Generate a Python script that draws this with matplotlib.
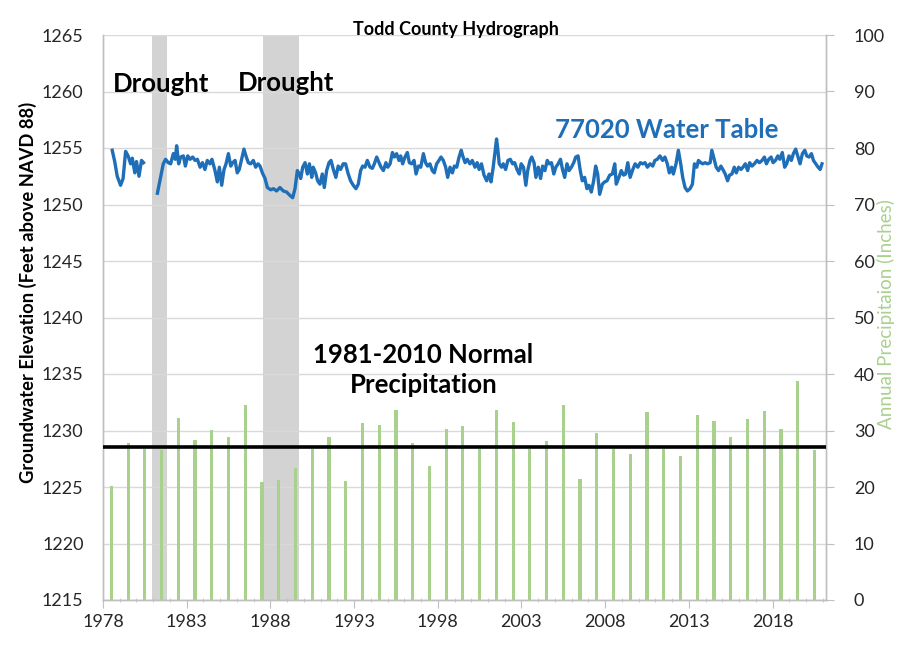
import numpy as np
import matplotlib
matplotlib.use("Agg")
import matplotlib.pyplot as plt
from matplotlib.ticker import MultipleLocator

plt.rcParams['font.family'] = ['Lato', 'DejaVu Sans']

# Annual precipitation (inches), plotted at mid-year
precip_years = np.arange(1978, 2021)
precip_in = [20.2, 27.7, 26.8, 26.5, 32.3, 28.4, 30.1, 28.8, 34.5, 20.9,
             21.2, 23.3, 26.8, 28.8, 21.1, 31.4, 31.0, 33.7, 27.8, 23.7,
             30.2, 30.8, 26.7, 33.7, 31.5, 26.8, 28.1, 34.5, 21.5, 29.6,
             26.8, 25.8, 33.2, 26.8, 25.4, 32.7, 31.7, 28.8, 32.0, 33.5,
             30.2, 38.8, 26.5]

normal_precip = 27.1  # 1981-2010 normal, inches

# Drought periods (decimal years)
drought_start = [1980.95, 1987.57]
drought_end = [1981.85, 1989.70]

# Well 77020 water table elevation (ft above NAVD 88); NaN marks the data gap
wt_year = [
    1978.55, 1978.70, 1978.85, 1979.05, 1979.20, 1979.35, 1979.50, 1979.65,
    1979.75, 1979.90, 1980.00, 1980.15, 1980.30, 1980.42, 1980.80,
    1981.25, 1981.40, 1981.60, 1981.74, 1981.90, 1982.04, 1982.20, 1982.32,
    1982.40, 1982.52, 1982.64, 1982.80, 1982.92, 1983.06, 1983.20, 1983.36,
    1983.50, 1983.64, 1983.80, 1983.94, 1984.09, 1984.23, 1984.39, 1984.51,
    1984.69, 1984.83, 1984.95, 1985.09, 1985.23, 1985.35, 1985.49, 1985.63,
    1985.75, 1985.89, 1986.02, 1986.14, 1986.28, 1986.42, 1986.54, 1986.68,
    1986.82, 1986.98, 1987.12, 1987.26, 1987.38, 1987.52, 1987.68, 1987.82,
    1988.02, 1988.18, 1988.37, 1988.57, 1988.77, 1988.97, 1989.17, 1989.33,
    1989.47, 1989.61, 1989.73, 1989.81, 1989.93, 1990.07, 1990.21, 1990.33,
    1990.47, 1990.56, 1990.70, 1990.82, 1990.96, 1991.10, 1991.22, 1991.36,
    1991.50, 1991.62, 1991.76, 1991.91, 1992.05, 1992.19, 1992.35, 1992.49,
    1992.65, 1992.79, 1992.95, 1993.11, 1993.25, 1993.39, 1993.51, 1993.65,
    1993.79, 1993.95, 1994.09, 1994.21, 1994.35, 1994.49, 1994.61, 1994.75,
    1994.90, 1995.01, 1995.15, 1995.29, 1995.41, 1995.54, 1995.68, 1995.78,
    1995.90, 1996.04, 1996.18, 1996.30, 1996.44, 1996.58, 1996.70, 1996.84,
    1996.98, 1997.14, 1997.27, 1997.39, 1997.53, 1997.67, 1997.79, 1997.93,
    1998.07, 1998.19, 1998.33, 1998.47, 1998.59, 1998.73, 1998.87, 1998.99,
    1999.13, 1999.27, 1999.40, 1999.49, 1999.63, 1999.76, 1999.92, 2000.06,
    2000.22, 2000.35, 2000.47, 2000.61, 2000.76, 2000.92, 2001.06, 2001.18,
    2001.31, 2001.43, 2001.51, 2001.59, 2001.67, 2001.81, 2001.91, 2002.05,
    2002.19, 2002.33, 2002.47, 2002.59, 2002.73, 2002.87, 2002.98, 2003.12,
    2003.26, 2003.37, 2003.51, 2003.61, 2003.75, 2003.86, 2004.00, 2004.14,
    2004.26, 2004.40, 2004.54, 2004.65, 2004.79, 2004.93, 2005.05, 2005.19,
    2005.33, 2005.45, 2005.58, 2005.72, 2005.84, 2005.98, 2006.12, 2006.24,
    2006.38, 2006.51, 2006.63, 2006.77, 2006.91, 2007.03, 2007.17, 2007.31,
    2007.43, 2007.55, 2007.67, 2007.83, 2007.97, 2008.11, 2008.27, 2008.43,
    2008.57, 2008.66, 2008.82, 2008.96, 2009.10, 2009.22, 2009.35, 2009.49,
    2009.65, 2009.79, 2009.95, 2010.10, 2010.24, 2010.38, 2010.52, 2010.68,
    2010.84, 2010.97, 2011.11, 2011.27, 2011.43, 2011.57, 2011.71, 2011.83,
    2011.97, 2012.07, 2012.23, 2012.37, 2012.51, 2012.63, 2012.77, 2012.91,
    2013.07, 2013.21, 2013.33, 2013.47, 2013.57, 2013.71, 2013.83, 2013.97,
    2014.11, 2014.27, 2014.37, 2014.51, 2014.63, 2014.77, 2014.91, 2015.03,
    2015.17, 2015.31, 2015.43, 2015.57, 2015.71, 2015.83, 2015.97, 2016.11,
    2016.23, 2016.37, 2016.51, 2016.63, 2016.77, 2016.91, 2017.07, 2017.21,
    2017.37, 2017.51, 2017.63, 2017.77, 2017.91, 2018.03, 2018.17, 2018.31,
    2018.43, 2018.58, 2018.72, 2018.84, 2018.98, 2019.12, 2019.24, 2019.38,
    2019.52, 2019.64, 2019.78, 2019.92, 2020.04, 2020.18, 2020.32, 2020.44,
    2020.58, 2020.72, 2020.84, 2020.95]

wt_elev = [
    1254.8, 1253.8, 1252.5, 1251.7, 1252.3, 1254.7, 1254.3, 1253.6,
    1254.1, 1252.8, 1253.8, 1252.5, 1253.9, 1253.7, np.nan,
    1251.0, 1252.1, 1253.6, 1254.0, 1253.7, 1253.6, 1254.5, 1254.0,
    1255.2, 1253.6, 1254.2, 1254.3, 1253.4, 1254.3, 1254.0, 1254.2,
    1253.9, 1254.0, 1253.3, 1253.7, 1253.1, 1253.9, 1253.6, 1254.0,
    1253.0, 1252.0, 1253.3, 1251.7, 1253.1, 1253.6, 1254.5, 1253.4,
    1253.7, 1253.9, 1252.8, 1253.1, 1254.0, 1254.9, 1254.3, 1253.7,
    1253.6, 1253.9, 1253.3, 1253.6, 1253.4, 1252.8, 1252.3, 1251.5,
    1251.3, 1251.4, 1251.2, 1251.5, 1251.2, 1251.1, 1250.8, 1250.6,
    1251.4, 1253.0, 1252.7, 1252.3, 1253.3, 1253.7, 1252.7, 1253.6,
    1252.4, 1253.3, 1252.8, 1252.1, 1251.8, 1252.7, 1251.5, 1253.0,
    1253.7, 1253.9, 1253.1, 1252.4, 1253.4, 1253.1, 1253.6, 1253.6,
    1252.7, 1252.1, 1251.7, 1251.4, 1251.8, 1253.0, 1253.4, 1253.3,
    1253.9, 1253.3, 1253.2, 1253.6, 1254.2, 1253.7, 1253.3, 1253.0,
    1253.7, 1253.3, 1253.6, 1254.6, 1254.2, 1254.5, 1253.9, 1254.3,
    1253.6, 1254.2, 1254.6, 1253.7, 1253.6, 1253.9, 1252.7, 1253.4,
    1253.3, 1254.5, 1253.7, 1253.4, 1253.6, 1253.0, 1252.8, 1253.6,
    1253.9, 1254.2, 1253.9, 1253.3, 1252.4, 1253.3, 1252.8, 1253.4,
    1253.3, 1254.2, 1254.8, 1254.3, 1253.7, 1254.0, 1253.6, 1253.9,
    1253.3, 1253.7, 1253.1, 1253.6, 1252.6, 1252.1, 1252.7, 1252.0,
    1253.3, 1254.8, 1255.8, 1254.8, 1253.6, 1253.3, 1253.6, 1253.1,
    1253.9, 1254.0, 1253.6, 1253.7, 1253.1, 1252.7, 1253.6, 1253.3,
    1251.7, 1253.0, 1253.9, 1254.2, 1253.7, 1252.4, 1253.3, 1252.3,
    1253.4, 1253.0, 1253.9, 1253.6, 1253.7, 1252.7, 1253.3, 1253.6,
    1254.0, 1253.1, 1252.4, 1253.6, 1253.0, 1253.3, 1253.7, 1254.2,
    1254.3, 1253.0, 1252.1, 1252.4, 1251.4, 1251.7, 1251.1, 1252.1,
    1253.4, 1252.7, 1250.9, 1251.8, 1252.0, 1252.1, 1252.6, 1252.7,
    1253.6, 1251.8, 1252.4, 1253.0, 1252.6, 1252.7, 1253.7, 1252.4,
    1253.1, 1253.6, 1253.3, 1253.7, 1253.6, 1253.7, 1253.3, 1253.6,
    1253.4, 1253.9, 1254.0, 1254.3, 1253.9, 1254.2, 1253.6, 1252.8,
    1253.3, 1252.7, 1253.6, 1254.8, 1253.6, 1252.4, 1251.5, 1251.2,
    1251.4, 1251.8, 1253.6, 1253.3, 1253.9, 1253.7, 1253.6, 1253.7,
    1253.6, 1253.7, 1254.8, 1254.0, 1253.3, 1253.0, 1253.4, 1253.1,
    1252.7, 1252.1, 1252.6, 1252.7, 1253.3, 1252.8, 1253.3, 1253.1,
    1253.3, 1253.6, 1253.0, 1253.7, 1253.4, 1253.6, 1253.9, 1253.7,
    1253.9, 1254.2, 1253.6, 1254.0, 1254.2, 1253.7, 1253.9, 1254.3,
    1254.0, 1254.6, 1253.3, 1253.6, 1254.3, 1253.9, 1254.5, 1254.9,
    1254.2, 1253.6, 1254.5, 1254.8, 1254.3, 1254.2, 1254.5, 1253.9,
    1253.6, 1253.3, 1253.1, 1253.6]

year_ticks = np.arange(1978, 2019, 5)

BLUE = '#1F6EB8'
GREEN = '#A9D18E'
GRID = '#D9D9D9'
AXIS = '#BFBFBF'
TEXT = '#262626'

fig = plt.figure(figsize=(8.98, 6.54), dpi=100)
ax = fig.add_axes([103 / 898, 1 - 600 / 654, 723 / 898, 565 / 654])
ax2 = ax.twinx()

# drought shading
for s, e in zip(drought_start, drought_end):
    ax.axvspan(s, e, color='#D3D3D3', zorder=0.5, lw=0)

ax.plot(wt_year, wt_elev, color=BLUE, lw=2.4, zorder=3)

ax2.bar(precip_years + 0.5, precip_in, width=0.19, color=GREEN, zorder=2)
ax2.axhline(normal_precip, color='black', lw=2.6, zorder=3)

ax.set_xlim(1978, 2021.19)
ax.set_ylim(1215, 1265)
ax2.set_ylim(0, 100)
ax.set_xticks(year_ticks)
ax.xaxis.set_minor_locator(MultipleLocator(1))
ax.yaxis.set_major_locator(MultipleLocator(5))
ax2.yaxis.set_major_locator(MultipleLocator(10))

ax.grid(axis='y', color=GRID, lw=1.0, zorder=0)
ax.set_axisbelow(True)

for a in (ax, ax2):
    a.spines['top'].set_visible(False)
    for side in ('left', 'right', 'bottom'):
        a.spines[side].set_color(AXIS)
        a.spines[side].set_linewidth(1.0)

ax.tick_params(axis='x', which='major', length=6, color=AXIS, labelsize=13,
               labelcolor=TEXT, pad=4, direction='out')
ax.tick_params(axis='x', which='minor', length=3, color=AXIS, direction='inout')
ax.tick_params(axis='y', length=0, labelsize=13, labelcolor=TEXT, pad=14)
ax2.tick_params(axis='y', length=6, color=AXIS, labelsize=13,
                labelcolor=TEXT, pad=14)

ax.text(0.014, 0.913, 'Drought', transform=ax.transAxes, fontsize=18.5,
        fontweight='bold', color='black', va='center', ha='left', zorder=5)
ax.text(0.187, 0.915, 'Drought', transform=ax.transAxes, fontsize=18.5,
        fontweight='bold', color='black', va='center', ha='left', zorder=5)
ax.text(0.625, 0.832, '77020 Water Table', transform=ax.transAxes,
        fontsize=18.5, fontweight='bold', color=BLUE, va='center', ha='left',
        zorder=5)
ax.text(0.443, 0.407, '1981-2010 Normal\nPrecipitation', transform=ax.transAxes,
        fontsize=18.5, fontweight='bold', color='black', va='center',
        ha='center', multialignment='center', linespacing=1.3, zorder=5)

fig.text(456 / 898, 1 - 30 / 654, 'Todd County Hydrograph', fontsize=13,
         fontweight='bold', color='black', ha='center', va='center')
fig.text(28 / 898, 1 - 292 / 654, 'Groundwater Elevation (Feet above NAVD 88)',
         rotation=90, fontsize=13.2, fontweight='bold', color='black',
         ha='center', va='center')
fig.text(886 / 898, 1 - 314 / 654, 'Annual Precipitaion (Inches)',
         rotation=90, fontsize=13.5, color=GREEN, ha='center', va='center')

fig.savefig('out.png', dpi=100)
